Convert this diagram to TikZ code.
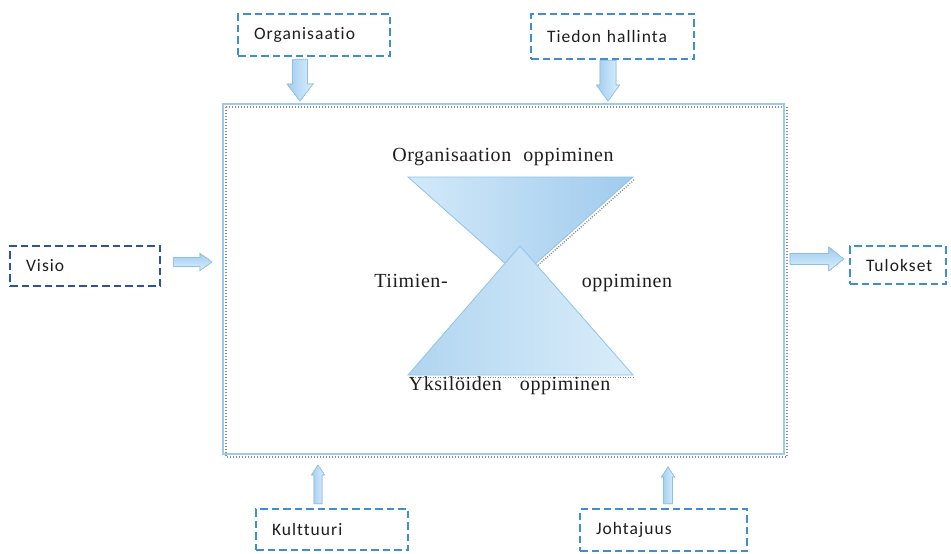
\documentclass[tikz,border=0pt]{standalone}
\usepackage{fontspec}
\setmainfont{Liberation Serif}
\newfontfamily\boxfont[LetterSpace=6, Ligatures=NoCommon]{Carlito}
\newfontfamily\levelfont[LetterSpace=3]{Liberation Serif}
\usetikzlibrary{calc}

\definecolor{dashblue}{HTML}{3D8ED3}
\definecolor{deepblue}{HTML}{2E52A3}
\definecolor{frameblue}{HTML}{9DCBEE}
\definecolor{arrowline}{HTML}{8CC0E8}
\definecolor{arrowdark}{HTML}{9ECDF0}
\definecolor{arrowlight}{HTML}{DDEFFB}
\definecolor{shadowgray}{HTML}{8C8C8C}
\definecolor{triedge}{HTML}{8EC4EA}
\definecolor{txt}{HTML}{1E1E1E}
\definecolor{topLight}{HTML}{D3E9F9}
\definecolor{topDark}{HTML}{A0CBED}
\definecolor{botDark}{HTML}{B0D5F0}
\definecolor{botLight}{HTML}{DAEDFA}

\tikzset{
  factor/.style={draw=dashblue, line width=2.6pt, dash pattern=on 7.5pt off 4pt,
    font=\boxfont\fontsize{17.5}{20}\selectfont, text=txt, align=left,
    inner xsep=16pt, inner ysep=0pt, anchor=center},
  barrowfill/.style={draw=arrowline, line width=0.6pt, left color=arrowdark, right color=arrowlight},
  barrowshadow/.style={draw=shadowgray, line width=0.9pt, dash pattern=on 0.8pt off 1.2pt},
  label/.style={font=\levelfont\fontsize{20}{22}\selectfont, text=txt, inner sep=0pt}
}

% block arrow from #2 to #3: shaft half width #4, head half width #5, head length #6
\newcommand\blockarrow[6][]{%
  \coordinate (bh) at ($(#3)!#6!(#2)$);
  \foreach \sty/\dx in {barrowshadow/1.6,barrowfill/0}{
  \path[\sty,#1, shift={(\dx,\dx)}]
    ($(#2)!#4!90:(#3)$) -- ($(bh)!#4!90:(#3)$) -- ($(bh)!#5!90:(#3)$) -- (#3)
    -- ($(bh)!#5!-90:(#3)$) -- ($(bh)!#4!-90:(#3)$) -- ($(#2)!#4!-90:(#3)$) -- cycle;}
}

\begin{document}
\begin{tikzpicture}[x=1pt,y=-1pt]
\useasboundingbox (0,0) rectangle (951,554);
\fill[white] (0,0) rectangle (951,554);

% central frame with its dotted shadow
\draw[shadowgray, line width=1.6pt, dash pattern=on 1pt off 2pt] (226,107) rectangle (787,457);
\draw[frameblue, line width=1.8pt] (223,104) rectangle (784,454);

% influencing factors
\node[factor, text width=120pt, minimum height=42pt] (org) at (314,35) {Organisaatio};
\node[factor, text width=131pt, minimum height=45pt] (tieto) at (612.5,36.5) {Tiedon hallinta};
\node[factor, draw=deepblue, text width=118pt, minimum height=40pt] (visio) at (85,266) {Visio};
\node[factor, text width=64pt, minimum height=38pt] (tulos) at (898,265) {Tulokset};
\node[factor, text width=120pt, minimum height=41pt] (kult) at (332,529.5) {Kulttuuri};
\node[factor, text width=135pt, minimum height=42pt] (johto) at (663.5,530) {Johtajuus};

% arrow ends on the frame
\coordinate (orgS) at ($(org.south)+(-14,2)$);
\coordinate (orgT) at (orgS |- 0,101);
\coordinate (tietoS) at ($(tieto.south)+(-4.5,0)$);
\coordinate (tietoT) at (tietoS |- 0,101);
\coordinate (visioS) at ($(visio.east |- 0,262)+(12,0)$);
\coordinate (visioT) at (212,262);
\coordinate (tulosS) at (790,259);
\coordinate (tulosT) at ($(tulos.west |- 0,259)+(-5,0)$);
\coordinate (kultS) at ($(kult.north)+(-14,-4)$);
\coordinate (kultT) at (kultS |- 0,465);
\coordinate (johtoS) at ($(johto.north)+(4.5,-4)$);
\coordinate (johtoT) at (johtoS |- 0,467);

% block arrows
\blockarrow{orgS}{orgT}{7.5pt}{13pt}{17pt}
\blockarrow{tietoS}{tietoT}{8pt}{11.5pt}{16pt}
\blockarrow[top color=arrowdark, bottom color=arrowlight]{visioS}{visioT}{4.5pt}{8.5pt}{12pt}
\blockarrow[top color=arrowdark, bottom color=arrowlight]{tulosS}{tulosT}{5.5pt}{12pt}{15pt}
\blockarrow{kultS}{kultT}{4pt}{6.5pt}{10pt}
\blockarrow{johtoS}{johtoT}{4.5pt}{6.5pt}{10pt}

% hourglass of learning levels
\coordinate (tl) at (408,177);
\coordinate (tr) at (633,177);
\coordinate (tapex) at (520.5,277);
\coordinate (bl) at (408,375);
\coordinate (br) at (633,375);
\coordinate (bapex) at (520,246);

\draw[shadowgray, line width=1.4pt, dash pattern=on 1pt off 1.5pt]
  ($(tr)+(1,3)$) -- ($(tapex)+(2,2)$);
\path[draw=triedge, line width=0.8pt, left color=topLight, right color=topDark]
  (tl) -- (tr) -- (tapex) -- cycle;
\draw[shadowgray, line width=1.4pt, dash pattern=on 1pt off 1.5pt]
  ($(bl)+(2,2.5)$) -- ($(br)+(2,2.5)$);
\path[draw=triedge, line width=0.8pt, left color=botDark, right color=botLight]
  (bl) -- (bapex) -- (br) -- cycle;

% level labels
\node[label] (lOrg) at (503,157) {Organisaation\hspace{0.6em}oppiminen};
\node[label] (lTiimi) at (411,281) {Tiimien-};
\node[label] (lTiimi2) at (627,283) {oppiminen};
\node[label] (lYks) at (509.5,386) {Yksilöiden\hspace{0.9em}oppiminen};
\end{tikzpicture}
\end{document}
